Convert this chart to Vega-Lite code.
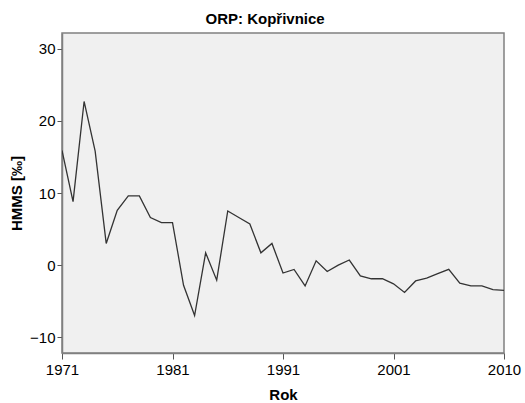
{
  "$schema": "https://vega.github.io/schema/vega-lite/v6.json",
  "width": 442,
  "height": 320,
  "autosize": {"type": "none"},
  "padding": {"left": 62, "top": 33, "right": 21, "bottom": 50},
  "background": "white",
  "title": {"text": "ORP: Kopřivnice", "fontSize": 15, "font": "Liberation Sans", "fontWeight": "bold", "color": "#000", "anchor": "middle", "frame": "bounds", "offset": 6},
  "data": {"values": [
    {"Rok": 1971, "HMMS": 15.9}, {"Rok": 1972, "HMMS": 8.8}, {"Rok": 1973, "HMMS": 22.7},
    {"Rok": 1974, "HMMS": 15.8}, {"Rok": 1975, "HMMS": 3.0}, {"Rok": 1976, "HMMS": 7.6},
    {"Rok": 1977, "HMMS": 9.6}, {"Rok": 1978, "HMMS": 9.6}, {"Rok": 1979, "HMMS": 6.6},
    {"Rok": 1980, "HMMS": 5.9}, {"Rok": 1981, "HMMS": 5.9}, {"Rok": 1982, "HMMS": -2.8},
    {"Rok": 1983, "HMMS": -7.0}, {"Rok": 1984, "HMMS": 1.7}, {"Rok": 1985, "HMMS": -2.1},
    {"Rok": 1986, "HMMS": 7.5}, {"Rok": 1987, "HMMS": 6.6}, {"Rok": 1988, "HMMS": 5.7},
    {"Rok": 1989, "HMMS": 1.7}, {"Rok": 1990, "HMMS": 3.0}, {"Rok": 1991, "HMMS": -1.1},
    {"Rok": 1992, "HMMS": -0.6}, {"Rok": 1993, "HMMS": -2.9}, {"Rok": 1994, "HMMS": 0.6},
    {"Rok": 1995, "HMMS": -0.9}, {"Rok": 1996, "HMMS": 0.0}, {"Rok": 1997, "HMMS": 0.7},
    {"Rok": 1998, "HMMS": -1.5}, {"Rok": 1999, "HMMS": -1.9}, {"Rok": 2000, "HMMS": -1.9},
    {"Rok": 2001, "HMMS": -2.6}, {"Rok": 2002, "HMMS": -3.8}, {"Rok": 2003, "HMMS": -2.2},
    {"Rok": 2004, "HMMS": -1.8}, {"Rok": 2005, "HMMS": -1.2}, {"Rok": 2006, "HMMS": -0.6},
    {"Rok": 2007, "HMMS": -2.5}, {"Rok": 2008, "HMMS": -2.9}, {"Rok": 2009, "HMMS": -2.9},
    {"Rok": 2010, "HMMS": -3.4}, {"Rok": 2011, "HMMS": -3.5}
  ]},
  "mark": {"type": "line", "color": "#333333", "strokeWidth": 1.3, "clip": true},
  "encoding": {
    "x": {
      "field": "Rok", "type": "quantitative",
      "scale": {"domain": [1971, 2011], "nice": false, "zero": false},
      "axis": {
        "title": "Rok", "values": [1971, 1981, 1991, 2001, 2011],
        "labelExpr": "datum.value == 2011 ? '2010' : datum.value + ''",
        "grid": false, "domainColor": "#808080", "domainWidth": 1.5,
        "tickColor": "#555", "tickSize": 6, "tickWidth": 1,
        "labelFont": "Liberation Sans", "labelFontSize": 15, "labelColor": "#000", "labelPadding": 3,
        "labelOverlap": false, "labelFlush": false,
        "titleFont": "Liberation Sans", "titleFontSize": 15, "titleFontWeight": "bold", "titleColor": "#000", "titlePadding": 10
      }
    },
    "y": {
      "field": "HMMS", "type": "quantitative",
      "scale": {"domain": [-12.2, 32.2], "nice": false, "zero": false},
      "axis": {
        "title": "HMMS [‰]", "values": [-10, 0, 10, 20, 30],
        "grid": false, "domainColor": "#808080", "domainWidth": 1.5,
        "tickColor": "#555", "tickSize": 5, "tickWidth": 1,
        "labelFont": "Liberation Sans", "labelFontSize": 15, "labelColor": "#000", "labelPadding": 2,
        "titleFont": "Liberation Sans", "titleFontSize": 15, "titleFontWeight": "bold", "titleColor": "#000", "titlePadding": 5
      }
    }
  },
  "config": {
    "view": {"fill": "#f0f0f0", "stroke": "#808080", "strokeWidth": 1.5}
  }
}
